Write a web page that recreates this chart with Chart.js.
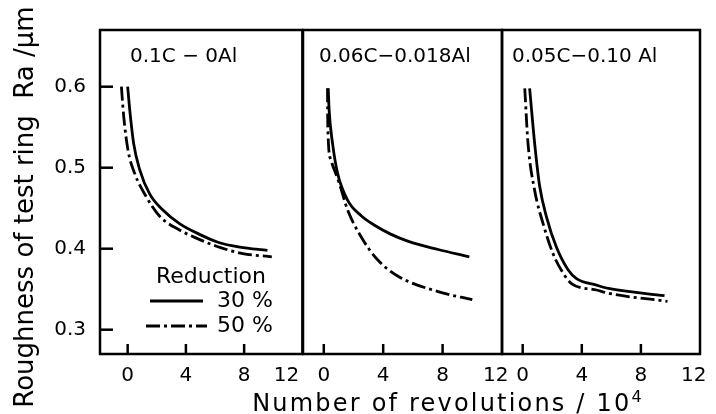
<!DOCTYPE html>
<html>
<head>
<meta charset="utf-8">
<script src="https://cdn.jsdelivr.net/npm/chart.js@4/dist/chart.umd.min.js"></script>
<style>
  body { margin: 0; background: #fff; }
  #wrap { position: relative; width: 716px; height: 414px; overflow: hidden; }
  .pane { position: absolute; top: 0; height: 414px; }
  .title {
    position: absolute; text-align: center; white-space: nowrap;
    font-family: "DejaVu Sans", sans-serif; color: #000;
  }
  #xtitle { left: 220px; top: 383px; width: 456px; font-size: 24px; line-height: 28px; letter-spacing: 2.2px; }
  #xtitle sup { font-size: 16px; }
  #ytitle { left: -186px; top: 192px; width: 420px; height: 30px; font-size: 26px; line-height: 30px;
            transform: rotate(-90deg); }
</style>
</head>
<body>
<div id="wrap">
  <div class="pane" style="left:0;width:333px"><canvas id="c1"></canvas></div>
  <div class="pane" style="left:273px;width:259px"><canvas id="c2"></canvas></div>
  <div class="pane" style="left:472px;width:264px"><canvas id="c3"></canvas></div>
  <div id="ytitle" class="title">Roughness of test ring&nbsp; Ra /µm</div>
  <div id="xtitle" class="title">Number of revolutions / 10<sup>4</sup></div>
</div>
<script>
// tick labels
const xTicks = [0, 4, 8, 12];
const yTicks = [0.3, 0.4, 0.5, 0.6];
const panelTitles = ['0.1C \u2212 0Al', '0.06C\u22120.018Al', '0.05C\u22120.10 Al'];
const legendTitle = 'Reduction';
const seriesNames = ['30 %', '50 %'];

// 0.1C-0Al
const p1Rev30 = [0, 0.14, 0.41, 0.82, 1.5, 2.4, 3.56, 4.9, 6.2, 7.7, 9.6];
const p1Ra30 = [0.600, 0.572, 0.530, 0.498, 0.468, 0.448, 0.431, 0.418, 0.408, 0.402, 0.398];
const p1Rev50 = [-0.43, -0.27, 0.02, 0.48, 1.28, 2.2, 3.56, 4.6, 6.1, 7.9, 9.9];
const p1Ra50 = [0.600, 0.563, 0.522, 0.493, 0.464, 0.440, 0.423, 0.414, 0.403, 0.394, 0.390];

// 0.06C-0.018Al
const p2Rev30 = [0.3, 0.36, 0.59, 0.93, 1.6, 2.5, 3.5, 4.5, 5.7, 7.7, 9.8];
const p2Ra30 = [0.598, 0.571, 0.530, 0.493, 0.460, 0.441, 0.428, 0.418, 0.409, 0.399, 0.390];
const p2Rev50 = [0.25, 0.27, 0.47, 1.04, 1.6, 2.5, 3.64, 5.0, 7.7, 10.0];
const p2Ra50 = [0.598, 0.551, 0.510, 0.481, 0.448, 0.415, 0.386, 0.366, 0.347, 0.337];

// 0.05C-0.10Al
const p3Rev30 = [0.47, 0.81, 1.15, 1.6, 2.28, 3.07, 3.64, 5.0, 5.8, 9.6];
const p3Ra30 = [0.598, 0.530, 0.477, 0.440, 0.402, 0.374, 0.363, 0.355, 0.351, 0.342];
const p3Rev50 = [0.14, 0.36, 0.81, 1.38, 2.05, 2.73, 3.3, 5.0, 5.8, 9.8];
const p3Ra50 = [0.598, 0.530, 0.472, 0.431, 0.394, 0.370, 0.357, 0.349, 0.345, 0.335];

const font = '"DejaVu Sans", sans-serif';
const dashDot = [14, 4, 3, 4];

function pts(xs, ys) {
  return xs.map((x, i) => ({ x: x, y: ys[i] }));
}

// frame, inward ticks, panel label, legend
const framePlugin = {
  id: 'frame',
  afterDraw(chart) {
    const opts = chart.config.options.frame;
    const ctx = chart.ctx;
    const a = chart.chartArea;
    const xs = chart.scales.x, ys = chart.scales.y;
    ctx.save();
    ctx.setLineDash([]);
    ctx.strokeStyle = '#000';
    ctx.fillStyle = '#000';
    ctx.lineWidth = 2.5;
    ctx.strokeRect(a.left, a.top, a.right - a.left, a.bottom - a.top);
    xTicks.slice(0, 3).forEach(v => {
      const px = xs.getPixelForValue(v);
      ctx.fillRect(px - 1.25, a.bottom - 10, 2.5, 10);
    });
    if (opts.yTicks) {
      yTicks.forEach(v => {
        const py = ys.getPixelForValue(v);
        ctx.fillRect(a.left, py - 1.25, 13, 2.5);
      });
    }

    ctx.font = '20px ' + font;
    ctx.textBaseline = 'middle';
    ctx.textAlign = 'left';
    ctx.fillText(opts.label, a.left + opts.labelX, a.top + 27);

    if (opts.legend) {
      const ds = chart.data.datasets;
      ctx.font = '22px ' + font;
      ctx.fillText(legendTitle, a.left + 56, a.top + 247);
      ds.forEach((d, i) => {
        const y = a.top + 271 + i * 25;
        ctx.beginPath();
        ctx.setLineDash(d.borderDash || []);
        ctx.lineWidth = d.borderWidth;
        ctx.moveTo(a.left + 50 - i * 4, y);
        ctx.lineTo(a.left + 103 + i * 4, y);
        ctx.stroke();
        ctx.setLineDash([]);
        ctx.fillText(seriesNames[i], a.left + 117, y);
      });
    }
    ctx.restore();
  }
};

function makeChart(id, s30, s50, xMin, pad, opts) {
  const first = opts.yTicks;
  return new Chart(document.getElementById(id), {
    type: 'scatter',
    data: {
      datasets: [
        { label: seriesNames[0], data: s30, showLine: true, borderColor: '#000', borderWidth: 2.8,
          pointRadius: 0, cubicInterpolationMode: 'monotone' },
        { label: seriesNames[1], data: s50, showLine: true, borderColor: '#000', borderWidth: 2.8,
          borderDash: dashDot, pointRadius: 0, cubicInterpolationMode: 'monotone' }
      ]
    },
    options: {
      responsive: true,
      maintainAspectRatio: false,
      animation: false,
      frame: opts,
      layout: { autoPadding: false, padding: { top: 30, bottom: 0, left: pad[0], right: pad[1] } },
      plugins: {
        legend: { display: false },
        tooltip: { enabled: false }
      },
      scales: {
        x: {
          type: 'linear', min: xMin, max: 12,
          afterBuildTicks: s => { s.ticks = xTicks.map(v => ({ value: v })); },
          afterFit: s => { s.height = 60; },
          grid: { display: false },
          border: { display: false },
          ticks: { color: '#000', font: { family: font, size: 20 }, padding: 2, maxRotation: 0,
                   callback: v => v === 12 ? '12' + ' '.repeat(opts.shift12) : String(v) }
        },
        y: {
          display: first,
          min: 0.27, max: 0.67,
          afterBuildTicks: s => { s.ticks = yTicks.map(v => ({ value: v })); },
          afterFit: s => { s.width = first ? 100 : 0; },
          grid: { display: false },
          border: { display: false },
          ticks: { color: '#000', font: { family: font, size: 20 }, padding: 6,
                   callback: v => v.toFixed(1) }
        }
      }
    },
    plugins: [framePlugin]
  });
}

makeChart('c1', pts(p1Rev30, p1Ra30), pts(p1Rev50, p1Ra50), -1.9, [0, 30],
  { yTicks: true, legend: true, label: panelTitles[0], labelX: 30, shift12: 5 });
makeChart('c2', pts(p2Rev30, p2Ra30), pts(p2Rev50, p2Ra50), -1.4, [30, 30],
  { yTicks: false, legend: false, label: panelTitles[1], labelX: 16, shift12: 2 });
makeChart('c3', pts(p3Rev30, p3Ra30), pts(p3Rev50, p3Ra50), -1.4, [30, 36],
  { yTicks: false, legend: false, label: panelTitles[2], labelX: 10, shift12: 2 });
</script>
</body>
</html>
